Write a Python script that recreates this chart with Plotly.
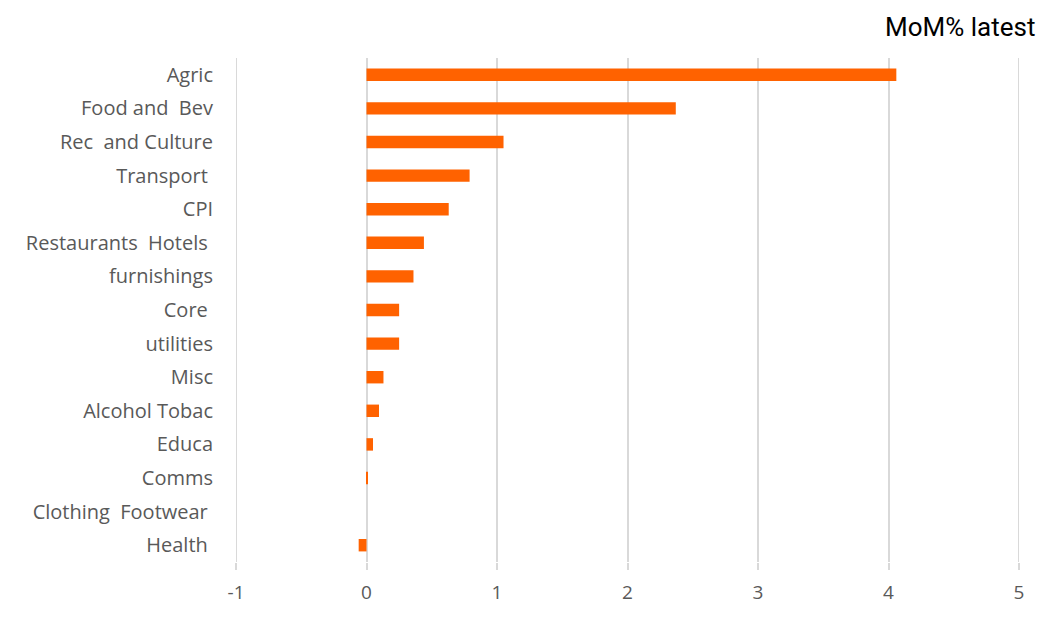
import plotly.graph_objects as go

categories = ["Agric", "Food and\u00a0 Bev", "Rec\u00a0 and Culture", "Transport\u00a0",
              "CPI", "Restaurants\u00a0 Hotels\u00a0", "furnishings", "Core\u00a0",
              "utilities", "Misc", "Alcohol Tobac", "Educa", "Comms",
              "Clothing\u00a0 Footwear\u00a0", "Health\u00a0"]
values = [4.06, 2.37, 1.05, 0.79, 0.63, 0.44, 0.36, 0.25, 0.25, 0.13, 0.096, 0.05, 0.01, 0.0, -0.06]
x_ticks = [-1, 0, 1, 2, 3, 4, 5]
title_text = "MoM% latest"

fig = go.Figure(go.Bar(
    x=values, y=categories, orientation="h",
    marker=dict(color="#FF6200", line=dict(width=0)),
    width=0.37,
))

fig.update_layout(
    width=1055, height=624,
    margin=dict(l=228, r=44, t=50, b=70, autoexpand=False),
    paper_bgcolor="white", plot_bgcolor="white",
    showlegend=False,
    font=dict(family="Open Sans", size=20, color="#595959"),
)
fig.update_xaxes(
    range=[x_ticks[0], x_ticks[-1]], tickvals=x_ticks, ticktext=[str(t) for t in x_ticks],
    showgrid=True, gridcolor="#d9d9d9", gridwidth=2,
    zeroline=True, zerolinecolor="#d9d9d9", zerolinewidth=2,
    ticks="outside", ticklen=7, tickcolor="#d9d9d9", tickwidth=2,
    ticklabelstandoff=6, showline=False,
    tickfont=dict(family="Open Sans", size=19, color="#595959"),
)
fig.update_yaxes(
    categoryorder="array", categoryarray=categories[::-1],
    range=[-0.5, 14.5],
    showgrid=False, zeroline=False, showline=False, ticks="",
    ticklabelstandoff=22,
    tickfont=dict(family="Open Sans", size=20, color="#595959"),
)
# edge gridlines (plotly omits gridlines at the range ends)
for xv in (x_ticks[0], x_ticks[-1]):
    fig.add_shape(type="line", xref="x", yref="paper", x0=xv, x1=xv, y0=0, y1=1,
                  line=dict(color="#d9d9d9", width=2), layer="below")
fig.add_annotation(
    text=title_text, xref="paper", yref="paper",
    x=(1029 - 228) / (1055 - 228 - 44), y=(624 - 70 - 19) / (624 - 50 - 70),
    xanchor="right", yanchor="middle", showarrow=False,
    font=dict(family="Roboto", size=26, color="#000000"),
)

fig.write_html("out.html")
